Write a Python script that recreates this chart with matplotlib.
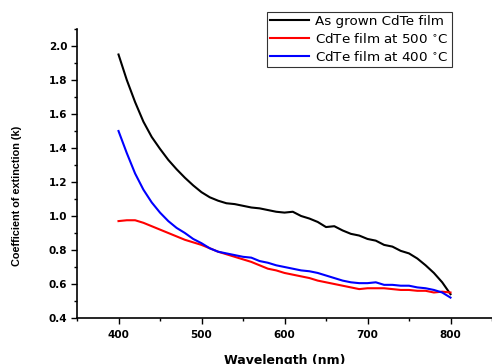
import numpy as np
import matplotlib
matplotlib.use("Agg")
import matplotlib.pyplot as plt
from matplotlib.ticker import MultipleLocator


#-----データ-----
wavelength=np.arange(400, 801, 10)

k_as_grown=[1.95, 1.80, 1.67, 1.555, 1.465, 1.395, 1.33, 1.275, 1.225, 1.18,
            1.14, 1.11, 1.09, 1.075, 1.07, 1.06, 1.05, 1.045, 1.035, 1.025,
            1.02, 1.025, 1.00, 0.985, 0.965, 0.935, 0.94, 0.915, 0.895, 0.885,
            0.865, 0.855, 0.83, 0.82, 0.795, 0.78, 0.75, 0.71, 0.665, 0.61,
            0.54]
k_500=[0.97, 0.975, 0.975, 0.96, 0.94, 0.92, 0.90, 0.88, 0.86, 0.845,
       0.83, 0.81, 0.79, 0.775, 0.76, 0.745, 0.73, 0.71, 0.69, 0.68,
       0.665, 0.655, 0.645, 0.635, 0.62, 0.61, 0.60, 0.59, 0.58, 0.57,
       0.575, 0.575, 0.575, 0.57, 0.565, 0.565, 0.56, 0.56, 0.55, 0.555,
       0.55]
k_400=[1.50, 1.37, 1.25, 1.155, 1.08, 1.02, 0.97, 0.93, 0.90, 0.865,
       0.84, 0.81, 0.79, 0.78, 0.77, 0.76, 0.755, 0.735, 0.725, 0.71,
       0.70, 0.69, 0.68, 0.675, 0.665, 0.65, 0.635, 0.62, 0.61, 0.605,
       0.605, 0.61, 0.595, 0.595, 0.59, 0.59, 0.58, 0.575, 0.565, 0.55,
       0.52]

labels=["As grown CdTe film", r"CdTe film at 500 $^{\circ}$C", r"CdTe film at 400 $^{\circ}$C"]
colors=["black", "red", "blue"]


#-----グラフの描画-----
fig=plt.figure(figsize=(4.92, 3.64), dpi=100)
ax=fig.add_axes([77/492, 46/364, 415/492, 289/364])

for k, lab, c in zip([k_as_grown, k_500, k_400], labels, colors):
    ax.plot(wavelength, k, color=c, lw=1.5, label=lab)

ax.set_xlim(350, 850)
ax.set_ylim(0.4, 2.1)
ax.xaxis.set_major_locator(MultipleLocator(100))
ax.xaxis.set_minor_locator(MultipleLocator(50))
ax.yaxis.set_major_locator(MultipleLocator(0.2))
ax.yaxis.set_minor_locator(MultipleLocator(0.1))
ax.spines["top"].set_visible(False)
ax.spines["right"].set_visible(False)
for s in ["left", "bottom"]:
    ax.spines[s].set_linewidth(1.2)
ax.tick_params(which="major", direction="out", length=4, width=1.0)
ax.tick_params(which="minor", direction="out", length=2.5, width=1.0)
ax.tick_params(axis="x", pad=5)
ax.tick_params(axis="y", pad=3)
for t in ax.get_xticklabels()+ax.get_yticklabels():
    t.set_fontfamily("DejaVu Sans")
    t.set_fontweight("bold")
    t.set_fontsize(7.5)

ax.set_xlabel("Wavelength (nm)", fontfamily="DejaVu Sans", fontweight="bold", fontsize=9, labelpad=10)
ax.set_ylabel("Coefficient of extinction (k)", family="Liberation Sans",
              fontweight="bold", fontsize=7.8, va="center")
ax.yaxis.set_label_coords(-0.145, 0.424)

leg=ax.legend(loc="upper left", bbox_to_anchor=(267/492, 1-12/364), bbox_transform=fig.transFigure,
              prop={"family": "DejaVu Sans", "size": 9.7}, frameon=True, fancybox=False,
              edgecolor="black", handlelength=2.9, handletextpad=0.45, labelspacing=0.3,
              borderpad=0.22, borderaxespad=0)
leg.get_frame().set_linewidth(0.8)

fig.savefig("out.png", dpi=100)
